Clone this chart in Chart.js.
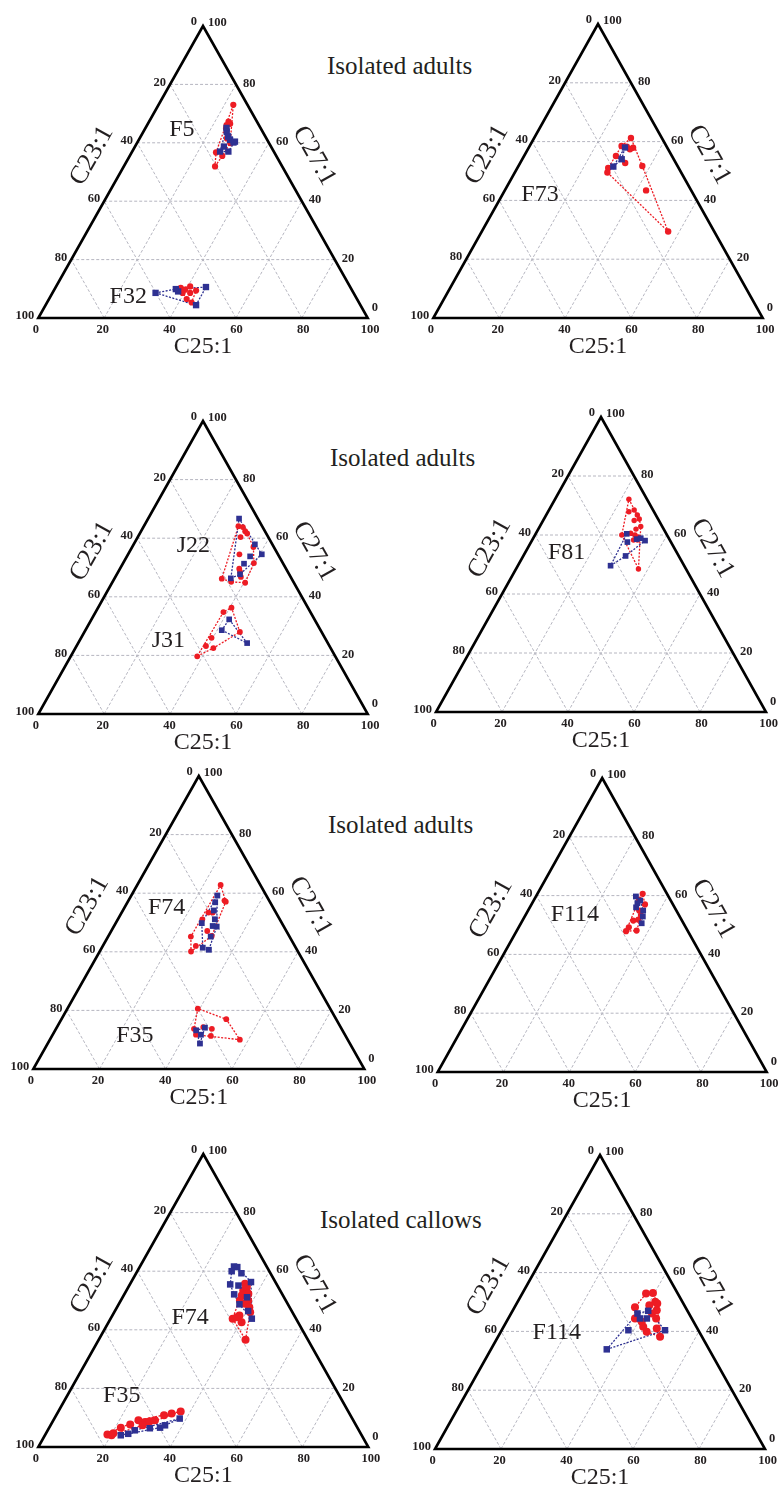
<!DOCTYPE html>
<html>
<head>
<meta charset="utf-8">
<script src="https://cdn.jsdelivr.net/npm/chart.js@4.4.0/dist/chart.umd.min.js"></script>
<style>
  body { margin: 0; background: #fff; }
  #wrap { position: relative; width: 784px; height: 1487px; overflow: hidden; }
  #wrap canvas { position: absolute; }
  .title { position: absolute; font: 25px 'Liberation Serif', serif; color: #231f20; white-space: nowrap; line-height: 24px; }
</style>
</head>
<body>
<div id="wrap"></div>
<script>
// tick values on the three sides
const leftTicks = [0, 20, 40, 60, 80, 100];   // C23:1
const rightTicks = [0, 20, 40, 60, 80, 100];  // C27:1
const bottomTicks = [0, 20, 40, 60, 80, 100]; // C25:1
const gridSteps = [20, 40, 60, 80];

// points as [C25:1, C27:1] in %, C23:1 = 100 - the two
const f5Red = [[22.7, 73.0], [24.1, 67.3], [24.1, 66.1], [24.5, 65.0], [28.3, 59.9], [25.6, 56.7], [28.1, 55.5], [27.7, 51.9], [25.0, 66.5], [26.5, 61.5]];
const f5Blue = [[24.6, 65.1], [25.3, 63.8], [26.6, 62.1], [27.7, 61.0], [29.2, 60.1], [29.5, 60.4], [26.7, 57.0], [29.2, 57.0], [27.0, 58.7]];
const f32Red = [[38.1, 10.3], [39.7, 9.7], [40.7, 10.8], [43.2, 9.4], [39.5, 8.6], [41.8, 6.5], [43.9, 5.3], [41.8, 8.6]];
const f32Blue = [[31.3, 8.6], [36.8, 9.9], [37.9, 9.1], [45.6, 10.6], [45.7, 4.4]];

const f73Red = [[29.4, 61.2], [29.6, 58.3], [31.0, 57.4], [27.9, 58.5], [27.9, 55.1], [31.9, 52.7], [37.6, 51.7], [27.6, 51.0], [28.1, 49.5], [42.9, 43.4], [56.6, 29.4], [31.7, 57.9]];
const f73Blue = [[29.2, 58.0], [30.2, 54.0], [28.9, 51.5]];

const j22Red = [[28.7, 64.1], [30.2, 63.8], [31.6, 62.4], [32.6, 61.6], [31.2, 60.4], [36.8, 57.0], [33.8, 54.5], [39.7, 51.5], [36.2, 49.6], [37.0, 48.5], [32.6, 46.2], [36.0, 45.1], [40.4, 44.8], [38.1, 46.8]];
const j22Blue = [[27.6, 66.7], [36.8, 57.9], [40.6, 54.5], [37.4, 53.8], [36.8, 51.3], [37.4, 47.7], [35.3, 46.3]];
const j31Red = [[40.5, 36.3], [38.8, 34.8], [47.2, 28.0], [39.6, 26.0], [39.3, 23.2], [41.9, 22.5], [38.4, 19.7]];
const j31Blue = [[41.8, 32.3], [41.4, 28.6], [51.3, 24.2]];

const f81Red = [[22.4, 72.1], [24.5, 67.9], [25.8, 68.5], [27.6, 66.8], [27.6, 64.9], [28.9, 65.4], [30.6, 62.9], [29.6, 62.0], [28.7, 60.6], [26.3, 60.0], [30.3, 60.0], [31.7, 59.3], [30.7, 58.3], [31.9, 58.3], [37.1, 48.5]];
const f81Blue = [[27.6, 60.4], [29.2, 57.6], [34.3, 58.1], [31.5, 58.6], [31.0, 52.9], [28.1, 49.6], [32.6, 58.9]];

const f74aRed = [[25.2, 62.8], [29.0, 57.5], [29.6, 57.1], [26.2, 53.4], [27.5, 53.4], [25.5, 51.1], [29.0, 47.1], [25.0, 45.2], [28.1, 42.0], [27.6, 40.1], [31.2, 45.4]];
const f74aBlue = [[26.0, 59.2], [26.5, 56.9], [27.5, 54.1], [29.3, 51.1], [26.0, 49.8], [29.8, 48.8], [31.1, 48.6], [31.0, 45.2], [30.5, 41.4], [32.7, 40.7]];
const f35aRed = [[39.4, 20.6], [49.8, 17.0], [57.4, 10.0], [41.7, 13.7], [44.2, 14.3], [47.1, 13.7], [48.0, 11.3], [43.3, 11.7]];
const f35aBlue = [[42.6, 13.2], [44.8, 11.7], [46.0, 8.7], [44.8, 14.1]];

const f114aRed = [[32.0, 60.6], [31.9, 58.6], [34.5, 57.0], [33.8, 54.9], [35.2, 53.2], [33.7, 51.5], [35.1, 51.8], [33.5, 49.2], [33.3, 47.9], [36.4, 48.1]];
const f114aBlue = [[30.4, 59.7], [32.4, 58.3], [32.0, 57.4], [35.0, 54.9], [35.9, 52.9], [36.7, 50.6], [32.3, 56.0]];

const f74cRed = [[34.8, 55.7], [35.4, 53.4], [36.8, 52.8], [35.8, 51.7], [38.6, 50.0], [38.2, 48.9], [40.1, 47.7], [36.1, 50.0], [41.2, 46.0], [37.0, 43.8], [38.5, 44.9], [40.3, 42.6], [44.5, 36.6], [38.0, 44.3], [35.9, 54.6], [37.5, 52.3]];
const f74cBlue = [[28.5, 61.6], [29.6, 61.4], [28.6, 60.0], [31.9, 59.3], [36.3, 56.3], [30.4, 55.5], [33.1, 55.1], [33.3, 52.1], [36.6, 48.7], [42.8, 43.8], [40.4, 46.4], [37.7, 51.1]];
const f35cRed = [[18.8, 4.3], [20.2, 4.0], [20.4, 4.7], [21.7, 6.6], [24.0, 7.7], [25.8, 9.1], [28.1, 8.5], [29.4, 8.8], [30.8, 9.1], [27.9, 7.4], [32.7, 10.8], [34.7, 11.4], [37.1, 12.1]];
const f35cBlue = [[23.0, 4.0], [25.0, 4.5], [26.4, 5.7], [30.6, 6.4], [33.6, 6.6], [34.7, 7.4], [38.0, 9.7]];

const f114cRed = [[37.5, 52.9], [39.5, 53.1], [36.5, 48.2], [40.5, 48.9], [41.7, 50.1], [42.6, 49.5], [38.4, 44.4], [42.7, 46.1], [43.6, 47.2], [44.8, 44.4], [42.3, 41.6], [44.2, 39.9], [46.7, 41.0], [49.1, 38.2], [41.0, 43.3]];
const f114cBlue = [[38.3, 46.1], [41.1, 47.0], [39.9, 44.4], [42.0, 44.4], [38.4, 40.4], [49.5, 40.4], [35.1, 33.9]];

const titles = [
  { text: 'Isolated adults', x: 327, y: 67 },
  { text: 'Isolated adults', x: 330, y: 459 },
  { text: 'Isolated adults', x: 328, y: 826 },
  { text: 'Isolated callows', x: 320, y: 1221 },
];

const RED = '#ed1c24';
const BLUE = '#2e3192';
const INK = '#231f20';
const SERIF = "'Liberation Serif', serif";

// panel geometry in page pixels; label positions in triangle units (x along base, height)
const panels = [
  { col: 0, lx: 38.3, rx: 367.7, ay: 26, by: 318.3, rr: 3.1, br: 4.5,
    groups: [{ red: f5Red, blue: f5Blue, name: 'F5', at: [43.6, 64.4] }, { red: f32Red, blue: f32Blue, name: 'F32', at: [27.3, 7.3] }] },
  { col: 1, lx: 433.3, rx: 762.7, ay: 24, by: 318.3, rr: 3.2, br: 4.5,
    groups: [{ red: f73Red, blue: f73Blue, name: 'F73', at: [32.4, 41.9] }] },
  { col: 0, lx: 38.3, rx: 367.7, ay: 420.6, by: 713.8, rr: 2.9, br: 4.0,
    groups: [{ red: j22Red, blue: j22Blue, name: 'J22', at: [47.1, 57.6] }, { red: j31Red, blue: j31Blue, name: 'J31', at: [39.5, 25.0] }] },
  { col: 1, lx: 436, rx: 766, ay: 417, by: 712.3, rr: 2.7, br: 4.0,
    groups: [{ red: f81Red, blue: f81Blue, name: 'F81', at: [39.6, 54.1] }] },
  { col: 0, lx: 33.3, rx: 364.3, ay: 776, by: 1069.2, rr: 2.9, br: 4.1,
    groups: [{ red: f74aRed, blue: f74aBlue, name: 'F74', at: [40.3, 55.0] }, { red: f35aRed, blue: f35aBlue, name: 'F35', at: [30.7, 11.3] }] },
  { col: 1, lx: 437.7, rx: 766.7, ay: 777.5, by: 1071.4, rr: 3.1, br: 4.1,
    groups: [{ red: f114aRed, blue: f114aBlue, name: 'F114', at: [41.7, 53.6] }] },
  { col: 0, lx: 38.3, rx: 368.3, ay: 1153.5, by: 1446.6, rr: 4.0, br: 4.6,
    groups: [{ red: f74cRed, blue: f74cBlue, name: 'F74', at: [46.0, 44.2] }, { red: f35cRed, blue: f35cBlue, name: 'F35', at: [25.3, 17.5] }] },
  { col: 1, lx: 435, rx: 765, ay: 1155, by: 1448.8, rr: 4.0, br: 4.6,
    groups: [{ red: f114cRed, blue: f114cBlue, name: 'F114', at: [36.9, 39.4] }] },
];

const toXY = ([c25, c27]) => ({ x: c25 + c27 / 2, y: c27 });

// monotone chain convex hull, closed
function hull(pts) {
  const p = pts.map(toXY).sort((a, b) => a.x - b.x || a.y - b.y);
  const cross = (o, a, b) => (a.x - o.x) * (b.y - o.y) - (a.y - o.y) * (b.x - o.x);
  const lower = [], upper = [];
  for (const q of p) {
    while (lower.length >= 2 && cross(lower[lower.length - 2], lower[lower.length - 1], q) <= 0) lower.pop();
    lower.push(q);
  }
  for (let i = p.length - 1; i >= 0; i--) {
    const q = p[i];
    while (upper.length >= 2 && cross(upper[upper.length - 2], upper[upper.length - 1], q) <= 0) upper.pop();
    upper.push(q);
  }
  const h = lower.slice(0, -1).concat(upper.slice(0, -1));
  h.push(h[0]);
  return h;
}

const ternaryPlugin = {
  id: 'ternary',
  beforeDatasetsDraw(chart) {
    const { ctx, scales: { x, y } } = chart;
    const px = (c25, c27) => [x.getPixelForValue(c25 + c27 / 2), y.getPixelForValue(c27)];
    const seg = (a, b) => { ctx.beginPath(); ctx.moveTo(a[0], a[1]); ctx.lineTo(b[0], b[1]); ctx.stroke(); };
    ctx.save();
    ctx.strokeStyle = '#b6b6c0';
    ctx.lineWidth = 1;
    ctx.setLineDash([3, 2]);
    gridSteps.forEach(k => {
      seg(px(0, k), px(100 - k, k));
      seg(px(k, 0), px(k, 100 - k));
      seg(px(100 - k, 0), px(0, 100 - k));
    });
    ctx.restore();
  },
  afterDatasetsDraw(chart) {
    const { ctx, scales: { x, y } } = chart;
    const opts = chart.options.plugins.ternary;
    const px = (c25, c27) => [x.getPixelForValue(c25 + c27 / 2), y.getPixelForValue(c27)];
    const bl = px(0, 0), br = px(100, 0), ap = px(0, 100);
    ctx.save();
    // frame
    ctx.strokeStyle = '#000';
    ctx.lineWidth = 2.6;
    ctx.lineJoin = 'miter';
    ctx.beginPath();
    ctx.moveTo(bl[0], bl[1]); ctx.lineTo(br[0], br[1]); ctx.lineTo(ap[0], ap[1]); ctx.closePath();
    ctx.stroke();

    ctx.fillStyle = INK;
    ctx.font = 'bold 12.5px ' + SERIF;
    ctx.textBaseline = 'middle';
    // left side: C23:1
    ctx.textAlign = 'right';
    leftTicks.forEach(v => {
      const p = px(0, 100 - v);
      if (v === 0) ctx.fillText(v, p[0] - 6, p[1] - 4);
      else ctx.fillText(v, p[0] - 4, p[1] - 2);
    });
    // right side: C27:1
    ctx.textAlign = 'left';
    rightTicks.forEach(v => {
      const p = px(100 - v, v);
      if (v === 100) ctx.fillText(v, p[0] + 5, p[1] - 3);
      else if (v === 0) ctx.fillText(v, p[0] + 4, p[1] - 10);
      else ctx.fillText(v, p[0] + 7, p[1] - 1);
    });
    // bottom: C25:1
    ctx.textAlign = 'center';
    bottomTicks.forEach(v => {
      const p = px(v, 0);
      ctx.fillText(v, p[0] + (v - 50) * 0.05, p[1] + 12);
    });

    // axis titles
    ctx.font = '26px ' + SERIF;
    const edgeTitle = (a, b, text) => {
      const ang = Math.atan2(b[1] - a[1], b[0] - a[0]);
      const dx = Math.cos(ang), dy = Math.sin(ang);
      const mx = (a[0] + b[0]) / 2 + dy * 33, my = (a[1] + b[1]) / 2 - dx * 33;
      ctx.save();
      ctx.translate(mx, my);
      ctx.rotate(ang);
      ctx.textAlign = 'center';
      ctx.fillText(text, 0, 0);
      ctx.restore();
    };
    edgeTitle(bl, ap, 'C23:1');
    edgeTitle(ap, br, 'C27:1');
    ctx.font = '24px ' + SERIF;
    ctx.textAlign = 'center';
    ctx.fillText('C25:1', (bl[0] + br[0]) / 2, bl[1] + 29);

    // group names
    opts.groups.forEach(g => {
      ctx.fillText(g.name, x.getPixelForValue(g.at[0]), y.getPixelForValue(g.at[1]));
    });
    ctx.restore();
  }
};

const wrap = document.getElementById('wrap');

titles.forEach(t => {
  const d = document.createElement('div');
  d.className = 'title';
  d.textContent = t.text;
  d.style.left = t.x + 'px';
  d.style.top = (t.y - 13) + 'px';
  wrap.appendChild(d);
});

panels.forEach(pn => {
  const cw = 392, padTop = 40, padBottom = 50;
  const left = pn.col * cw;
  const top = pn.ay - padTop;
  const ch = (pn.by - pn.ay) + padTop + padBottom;
  const canvas = document.createElement('canvas');
  canvas.width = cw;
  canvas.height = Math.round(ch);
  canvas.style.left = left + 'px';
  canvas.style.top = top + 'px';
  wrap.appendChild(canvas);

  const datasets = [];
  pn.groups.forEach(g => {
    datasets.push({ data: g.blue.map(toXY), pointStyle: 'rect', pointRadius: pn.br, backgroundColor: BLUE, borderColor: BLUE, borderWidth: 0, showLine: false });
    datasets.push({ data: g.red.map(toXY), pointStyle: 'circle', pointRadius: pn.rr, backgroundColor: RED, borderColor: RED, borderWidth: 0, showLine: false });
  });
  pn.groups.forEach(g => {
    datasets.push({ data: hull(g.blue), showLine: true, pointRadius: 0, borderColor: BLUE, borderWidth: 1.3, borderDash: [2, 1.5], tension: 0, fill: false });
    datasets.push({ data: hull(g.red), showLine: true, pointRadius: 0, borderColor: RED, borderWidth: 1.3, borderDash: [2, 1.5], tension: 0, fill: false });
  });

  new Chart(canvas.getContext('2d'), {
    type: 'scatter',
    data: { datasets },
    options: {
      responsive: false,
      animation: false,
      clip: false,
      layout: { padding: { left: pn.lx - left, right: left + cw - pn.rx, top: padTop, bottom: ch - padTop - (pn.by - pn.ay) } },
      scales: {
        x: { type: 'linear', min: 0, max: 100, display: false },
        y: { type: 'linear', min: 0, max: 100, display: false },
      },
      plugins: {
        legend: { display: false },
        tooltip: { enabled: false },
        ternary: { groups: pn.groups },
      },
    },
    plugins: [ternaryPlugin],
  });
});
</script>
</body>
</html>
